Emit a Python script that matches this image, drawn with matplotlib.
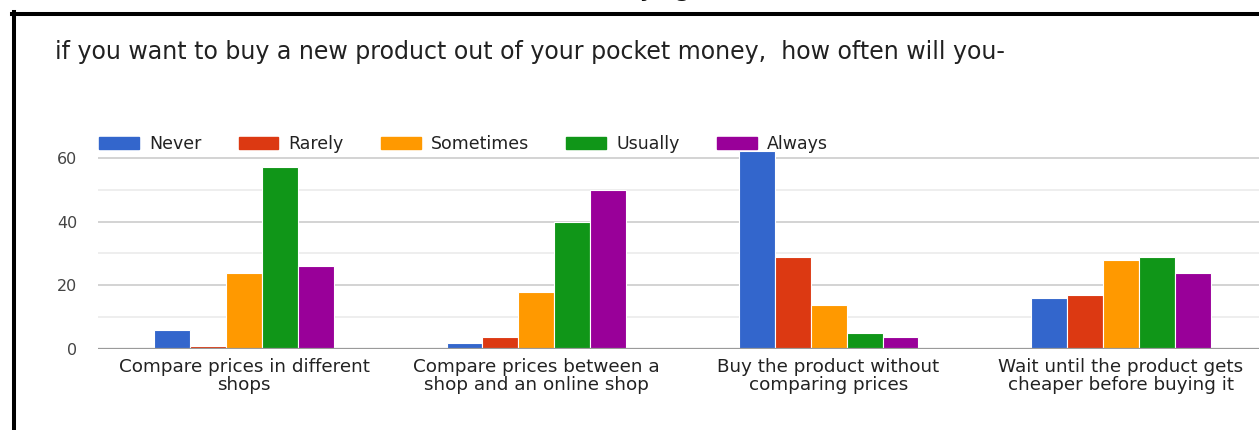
import matplotlib.pyplot as plt
from matplotlib.lines import Line2D
from matplotlib.patches import Patch
import numpy as np

W, H = 1259, 430

questions = [
    "Compare prices in different\nshops",
    "Compare prices between a\nshop and an online shop",
    "Buy the product without\ncomparing prices",
    "Wait until the product gets\ncheaper before buying it",
]
answers = ["Never", "Rarely", "Sometimes", "Usually", "Always"]
colors = ["#3366cc", "#dc3912", "#ff9900", "#109618", "#990099"]

never = [6, 2, 62, 16]
rarely = [1, 4, 29, 17]
sometimes = [24, 18, 14, 28]
usually = [57, 40, 5, 29]
always = [26, 50, 4, 24]

title = "if you want to buy a new product out of your pocket money,  how often will you-"

plt.rcParams['font.family'] = ['DejaVu Sans']

fig = plt.figure(figsize=(W / 100, H / 100), dpi=100)
fig.patch.set_facecolor("white")


def px(x, y):
    # pixel position (from top-left) -> figure fraction
    return x / W, 1 - y / H


# axes placed in pixels: x from 98 to 1267, y from 148 (top) to 349 (zero line)
ax_left, ax_right, ax_top, ax_bot = 98, 1267, 148.1, 349.3
ax = fig.add_axes([ax_left / W, 1 - ax_bot / H,
                   (ax_right - ax_left) / W, (ax_bot - ax_top) / H])

x = np.arange(len(questions))
bar_w = 0.123
series = [never, rarely, sometimes, usually, always]
for i, (vals, col) in enumerate(zip(series, colors)):
    ax.bar(x + (i - 2) * bar_w, vals, bar_w, color=col,
           edgecolor="white", linewidth=0.8, zorder=3)

ax.set_xlim(-0.5, 3.5)
ax.set_ylim(0, 63)
ax.set_yticks([0, 20, 40, 60])
ax.set_yticks([10, 30, 50], minor=True)
ax.grid(axis="y", which="major", color="#cccccc", linewidth=1.2, zorder=0)
ax.grid(axis="y", which="minor", color="#ebebeb", linewidth=1.2, zorder=0)
ax.axhline(0, color="#9a9a9a", linewidth=1.6, zorder=4)
for s in ax.spines.values():
    s.set_visible(False)

ax.tick_params(axis="y", which="both", length=0, pad=15,
               labelsize=11.5, labelcolor="#444444")
ax.tick_params(axis="x", length=0, pad=6, labelsize=13.2, labelcolor="#222222")
ax.set_xticks(x, labels=questions)
for lab in ax.get_xticklabels():
    lab.set_linespacing(1.0)

handles = [Patch(facecolor=c, edgecolor=c) for c in colors]
fig.legend(handles, answers, loc="center left",
           bbox_to_anchor=px(99, 144), frameon=False, ncol=5,
           fontsize=12.5, labelcolor="#222222",
           handlelength=2.3, handleheight=0.75, handletextpad=0.57,
           columnspacing=2.15, borderpad=0, borderaxespad=0)

fig.text(*px(55, 59), title, fontsize=17.1, color="#212121", va="baseline")

# heading of the page above, mostly cut off at the top edge
fig.text(*px(650, -3), "Buying", fontsize=15, fontweight="bold",
         color="#111111", ha="center", va="baseline")

# black frame around the chart card
fig.add_artist(Line2D([12 / W, 1.01], [1 - 14 / H] * 2,
                      transform=fig.transFigure, color="black", linewidth=2.9))
fig.add_artist(Line2D([14 / W] * 2, [1 - 12 / H, -0.01],
                      transform=fig.transFigure, color="black", linewidth=2.9))

fig.savefig("out.png", dpi=100)
